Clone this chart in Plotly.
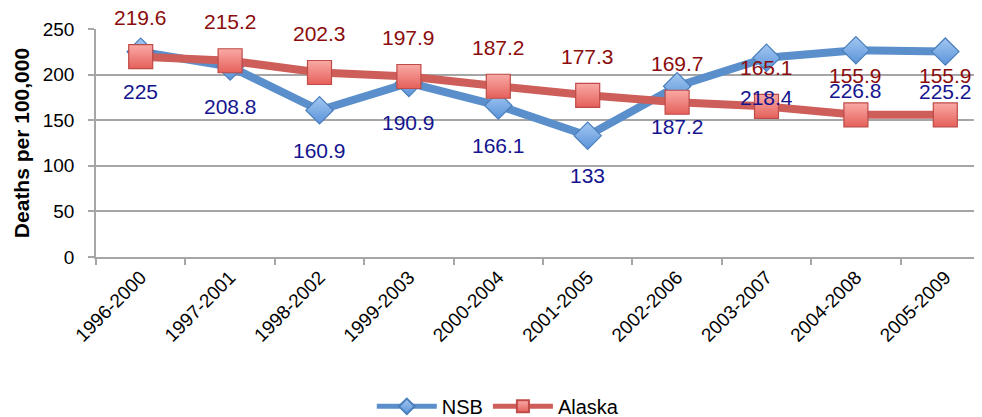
import plotly.graph_objects as go

periods = ["1996-2000", "1997-2001", "1998-2002", "1999-2003", "2000-2004",
           "2001-2005", "2002-2006", "2003-2007", "2004-2008", "2005-2009"]
nsb = [225, 208.8, 160.9, 190.9, 166.1, 133, 187.2, 218.4, 226.8, 225.2]
alaska = [219.6, 215.2, 202.3, 197.9, 187.2, 177.3, 169.7, 165.1, 155.9, 155.9]
y_ticks = [0, 50, 100, 150, 200, 250]

FONT = "Liberation Sans, Arial, sans-serif"

fig = go.Figure()

# NSB line with diamonds
fig.add_trace(go.Scatter(
    x=periods, y=nsb, name="NSB", mode="lines+markers",
    line=dict(color="#5A8FCB", width=8),
    marker=dict(symbol="diamond", size=21, color="#A3C8F2",
                gradient=dict(type="vertical", color="#5B93D8"),
                line=dict(color="#4A7EBB", width=1.2)),
    cliponaxis=False,
))

# Alaska line with squares
fig.add_trace(go.Scatter(
    x=periods, y=alaska, name="Alaska", mode="lines+markers",
    line=dict(color="#CD5E59", width=8),
    marker=dict(symbol="square", size=24, color="#F9AAA6",
                gradient=dict(type="vertical", color="#E5605A"),
                line=dict(color="#BE4B48", width=1.2)),
    cliponaxis=False,
))

# data labels: NSB below, Alaska above
for p, v in zip(periods, nsb):
    fig.add_annotation(x=p, y=v, text=f"{v:g}", showarrow=False, yshift=-40,
                       font=dict(family=FONT, size=21, color="#14148F"))
for p, v in zip(periods, alaska):
    fig.add_annotation(x=p, y=v, text=f"{v:g}", showarrow=False, yshift=39,
                       font=dict(family=FONT, size=21, color="#8B0C0C"))

fig.update_xaxes(
    type="category", range=[-0.5, 9.5], automargin=False,
    tickangle=-45, tickson="boundaries", ticks="outside", ticklen=6,
    tickcolor="#A6A6A6", tickwidth=1.5,
    showline=True, linecolor="#A6A6A6", linewidth=1.5,
    showgrid=False,
    tickfont=dict(family=FONT, size=19, color="black"),
)
fig.update_yaxes(
    range=[0, 250], tickvals=y_ticks, automargin=False,
    ticks="outside", ticklen=6, tickcolor="#A6A6A6", tickwidth=1.5,
    ticklabelstandoff=10,
    showline=True, linecolor="#A6A6A6", linewidth=1.5,
    showgrid=True, gridcolor="#A6A6A6", gridwidth=1.5,
    zeroline=False,
    tickfont=dict(family=FONT, size=19, color="black"),
    title=dict(text="<b>Deaths per 100,000</b>", standoff=7,
               font=dict(family=FONT, size=21, color="black")),
)

fig.update_layout(
    width=982, height=417,
    margin=dict(l=88, r=0, t=21, b=168, autoexpand=False),
    plot_bgcolor="white", paper_bgcolor="white",
    font=dict(family=FONT, color="black"),
    legend=dict(orientation="h", x=0.45, xanchor="center", y=-0.655, yanchor="middle",
                font=dict(family=FONT, size=20, color="black"),
                itemwidth=60, itemsizing="constant", tracegroupgap=0),
)

fig.write_html("out.html")
